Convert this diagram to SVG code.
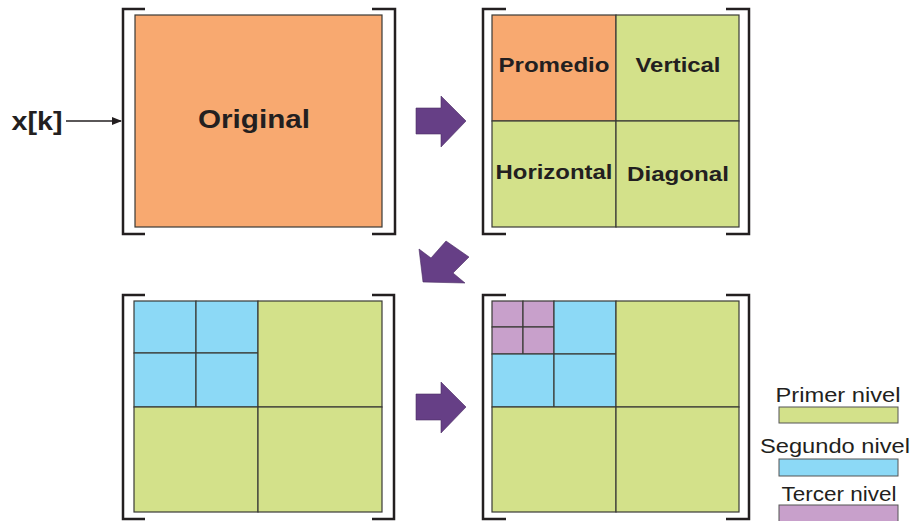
<svg xmlns="http://www.w3.org/2000/svg" width="915" height="521" viewBox="0 0 915 521">
<style>
.br{fill:none;stroke:#231f20;stroke-width:2.5}
.c{stroke:#3a3a36;stroke-width:1.2}
.o{fill:#f8a970}
.g{fill:#d3e18a}
.b{fill:#8cd9f6}
.p{fill:#c8a0cb}
.ar{fill:#663f86;stroke:#4a2c63;stroke-width:0.6}
.t{font-family:"Liberation Sans",Arial,sans-serif;font-weight:bold;fill:#231f20;text-anchor:middle}
.l{font-family:"Liberation Sans",Arial,sans-serif;fill:#231f20;text-anchor:middle;font-size:20px}
</style>
<defs>
<marker id="ah" markerWidth="10" markerHeight="8" refX="9" refY="4" orient="auto" markerUnits="userSpaceOnUse">
<path d="M0,0 L10,4 L0,8 Z" fill="#231f20"/>
</marker>
</defs>

<g id="input">
<text class="t" x="37" y="130" font-size="25" textLength="51" lengthAdjust="spacingAndGlyphs">x[k]</text>
</g>

<g id="panel-original">
<path class="br" d="M145,9 H123 V234 H145"/>
<path class="br" d="M372,9 H395 V234 H372"/>
<rect class="o c" x="135" y="15" width="247" height="212"/>
<text class="t" x="254" y="128" font-size="26" textLength="112" lengthAdjust="spacingAndGlyphs">Original</text>
</g>

<g id="panel-level1">
<path class="br" d="M506,9 H483 V234 H506"/>
<path class="br" d="M726,9 H749 V234 H726"/>
<rect class="o c" x="492" y="15" width="124" height="106"/>
<rect class="g c" x="616" y="15" width="123" height="106"/>
<rect class="g c" x="492" y="121" width="124" height="106"/>
<rect class="g c" x="616" y="121" width="123" height="106"/>
<text class="t" x="554" y="72" font-size="20" textLength="111" lengthAdjust="spacingAndGlyphs">Promedio</text>
<text class="t" x="678" y="72" font-size="20" textLength="85" lengthAdjust="spacingAndGlyphs">Vertical</text>
<text class="t" x="554" y="179" font-size="20" textLength="117" lengthAdjust="spacingAndGlyphs">Horizontal</text>
<text class="t" x="678" y="181" font-size="20" textLength="102" lengthAdjust="spacingAndGlyphs">Diagonal</text>
</g>

<g id="panel-level2">
<path class="br" d="M145,295 H123 V519 H145"/>
<path class="br" d="M372,295 H394 V519 H372"/>
<rect class="b c" x="134" y="301" width="62" height="52"/>
<rect class="b c" x="196" y="301" width="62" height="52"/>
<rect class="b c" x="134" y="353" width="62" height="54"/>
<rect class="b c" x="196" y="353" width="62" height="54"/>
<rect class="g c" x="258" y="301" width="124" height="106"/>
<rect class="g c" x="134" y="407" width="124" height="105"/>
<rect class="g c" x="258" y="407" width="124" height="105"/>
</g>

<g id="panel-level3">
<path class="br" d="M506,295 H483 V519 H506"/>
<path class="br" d="M726,295 H749 V519 H726"/>
<rect class="p c" x="492" y="301" width="31" height="26"/>
<rect class="p c" x="523" y="301" width="31" height="26"/>
<rect class="p c" x="492" y="327" width="31" height="27"/>
<rect class="p c" x="523" y="327" width="31" height="27"/>
<rect class="b c" x="554" y="301" width="62" height="53"/>
<rect class="b c" x="492" y="354" width="62" height="53"/>
<rect class="b c" x="554" y="354" width="62" height="53"/>
<rect class="g c" x="616" y="301" width="123" height="106"/>
<rect class="g c" x="492" y="407" width="124" height="105"/>
<rect class="g c" x="616" y="407" width="123" height="105"/>
</g>

<g id="legend">
<text class="l" x="838" y="402" textLength="125" lengthAdjust="spacingAndGlyphs">Primer nivel</text>
<rect class="g" x="779" y="407" width="119" height="16" stroke="#555" stroke-width="1"/>
<text class="l" x="835" y="453" textLength="150" lengthAdjust="spacingAndGlyphs">Segundo nivel</text>
<rect class="b" x="779" y="459" width="119" height="17" stroke="#555" stroke-width="1"/>
<text class="l" x="839" y="501" textLength="115" lengthAdjust="spacingAndGlyphs">Tercer nivel</text>
<rect class="p" x="779" y="505" width="119" height="20" stroke="#555" stroke-width="1"/>
</g>

<g id="connectors">
<line x1="66" y1="121" x2="121" y2="121" stroke="#231f20" stroke-width="1.5" marker-end="url(#ah)"/>
<polygon class="ar" points="416,108 441,108 441,96 466,121 441,147 441,134 416,134"/>
<polygon class="ar" points="423,282 465,283 453,273 469,257 446,241 431,258 419,249"/>
<polygon class="ar" points="416,394 441,394 441,382 466,407 441,433 441,420 416,420"/>
</g>
</svg>
